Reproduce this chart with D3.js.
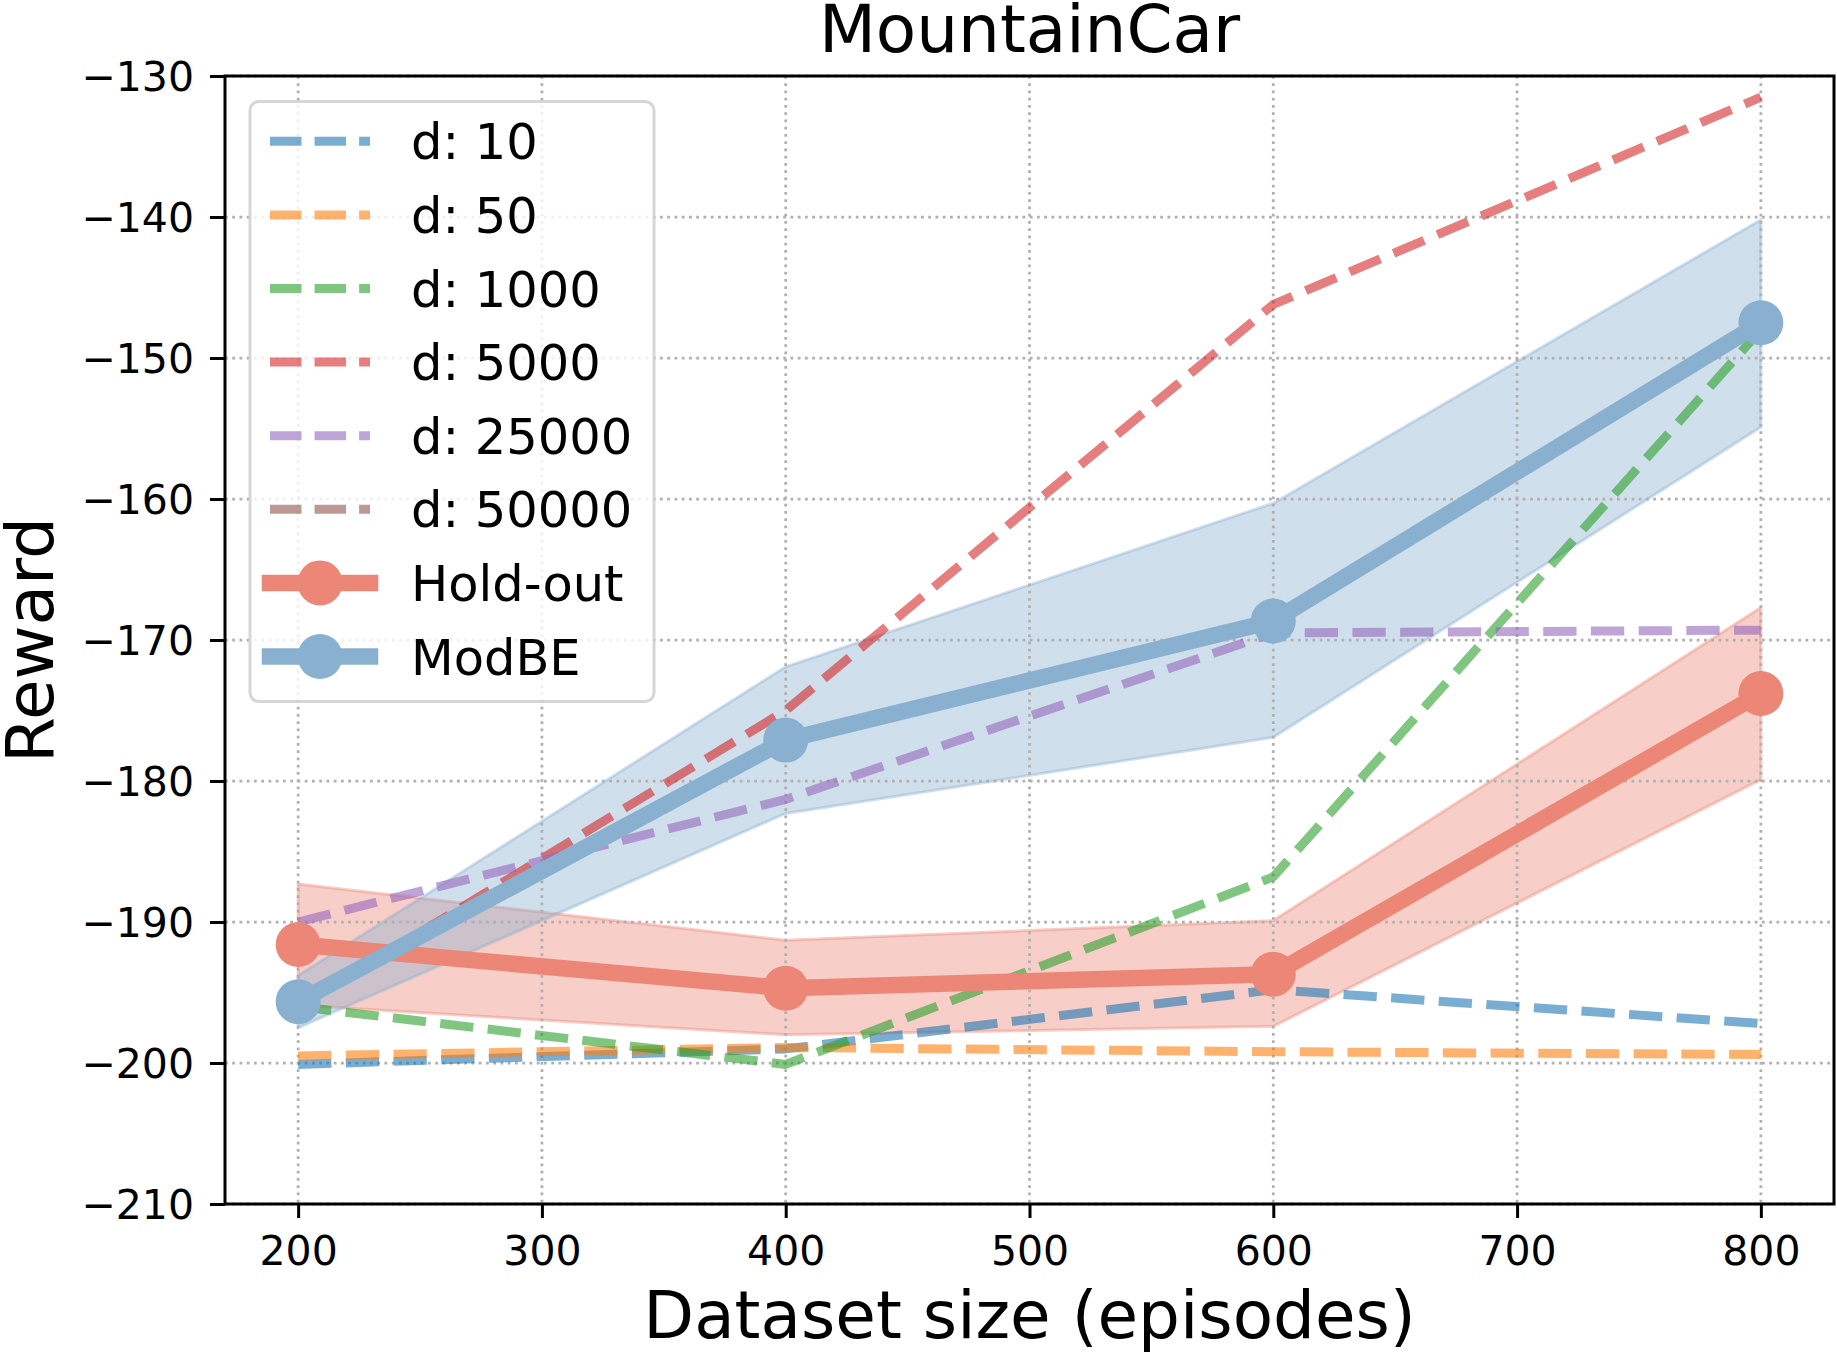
<!DOCTYPE html>
<html>
<head>
<meta charset="utf-8">
<script src="https://cdn.jsdelivr.net/npm/d3@7"></script>
<style>
  body { margin: 0; background: #fff; }
  svg text { font-family: "DejaVu Sans", sans-serif; fill: #000; }
</style>
</head>
<body>
<div id="chart"></div>
<script>
// dataset sizes (episodes)
const sizes = [200, 400, 600, 800];

// dashed series, one per d value
const d10 = [-200.1, -199.0, -194.8, -197.2];
const d50 = [-199.5, -198.9, -199.2, -199.4];
const d1000 = [-196.0, -200.1, -186.8, -148.0];
const d5000 = [-196.0, -175.0, -146.2, -131.5];
const d25000 = [-190.0, -181.3, -169.5, -169.3];
const d50000 = [null, null, null, null]; // not visible in the plot

// Hold-out: mean and band
const holdMean = [-191.6, -194.7, -193.7, -173.8];
const holdLo = [-195.9, -198.0, -197.4, -179.9];
const holdHi = [-187.3, -191.3, -189.9, -167.7];

// ModBE: mean and band
const modMean = [-195.65, -177.1, -168.65, -147.5];
const modLo = [-197.5, -182.3, -176.9, -154.9];
const modHi = [-193.8, -171.9, -160.3, -140.2];

const xTicks = [200, 300, 400, 500, 600, 700, 800];
const yTicks = [-210, -200, -190, -180, -170, -160, -150, -140, -130];

const dashed = [
    { name: "d: 10", values: d10, color: "#1f77b4" },
    { name: "d: 50", values: d50, color: "#ff7f0e" },
    { name: "d: 1000", values: d1000, color: "#2ca02c" },
    { name: "d: 5000", values: d5000, color: "#d62728" },
    { name: "d: 25000", values: d25000, color: "#9467bd" },
    { name: "d: 50000", values: d50000, color: "#8c564b" }
];
const solid = [
    { name: "Hold-out", mean: holdMean, lo: holdLo, hi: holdHi, color: "#ec8676" },
    { name: "ModBE", mean: modMean, lo: modLo, hi: modHi, color: "#8ab0d0" }
];

const width = 1837, height = 1356;
const margin = { top: 76, right: 3, bottom: 152, left: 225 };
const plotW = width - margin.left - margin.right;
const plotH = height - margin.top - margin.bottom;

const svg = d3.select("#chart").append("svg")
    .attr("width", width)
    .attr("height", height);

const x = d3.scaleLinear().domain([170, 830]).range([margin.left, margin.left + plotW]);
const y = d3.scaleLinear().domain([-210, -130]).range([margin.top + plotH, margin.top]);

const dashLw = 9;
const solidLw = 16.5;
const markerR = 22.5;

// bands first
const area = d3.area()
    .x((d, i) => x(sizes[i]))
    .y0(d => y(d.lo))
    .y1(d => y(d.hi));

solid.forEach(s => {
    const pts = s.mean.map((m, i) => ({ lo: s.lo[i], hi: s.hi[i] }));
    svg.append("path")
        .attr("d", area(pts))
        .attr("fill", s.color)
        .attr("fill-opacity", 0.4)
        .attr("stroke", s.color)
        .attr("stroke-opacity", 0.4)
        .attr("stroke-width", 3);
});

// grid
const grid = svg.append("g");
grid.selectAll(".gx").data(xTicks).enter().append("line")
    .attr("x1", d => x(d)).attr("x2", d => x(d))
    .attr("y1", margin.top).attr("y2", margin.top + plotH);
grid.selectAll(".gy").data(yTicks).enter().append("line")
    .attr("x1", margin.left).attr("x2", margin.left + plotW)
    .attr("y1", d => y(d)).attr("y2", d => y(d));
grid.selectAll("line")
    .attr("stroke", "#b0b0b0")
    .attr("stroke-width", 2.75)
    .attr("stroke-dasharray", "2.75,4.5");

const line = d3.line()
    .defined(d => d != null)
    .x((d, i) => x(sizes[i]))
    .y(d => y(d));

// dashed lines
dashed.forEach(s => {
    svg.append("path")
        .attr("d", line(s.values))
        .attr("fill", "none")
        .attr("stroke", s.color)
        .attr("stroke-opacity", 0.6)
        .attr("stroke-width", dashLw)
        .attr("stroke-dasharray", `${3.7 * dashLw},${1.6 * dashLw}`)
        .attr("stroke-linejoin", "round");
});

// solid lines with markers
solid.forEach(s => {
    svg.append("path")
        .attr("d", line(s.mean))
        .attr("fill", "none")
        .attr("stroke", s.color)
        .attr("stroke-width", solidLw)
        .attr("stroke-linejoin", "round")
        .attr("stroke-linecap", "square");
    svg.append("g").selectAll("circle")
        .data(s.mean)
        .enter().append("circle")
        .attr("cx", (d, i) => x(sizes[i]))
        .attr("cy", d => y(d))
        .attr("r", markerR)
        .attr("fill", s.color);
});

// axes
const xAxis = svg.append("g")
    .attr("transform", `translate(0,${margin.top + plotH})`)
    .call(d3.axisBottom(x).tickValues(xTicks).tickSize(14).tickPadding(18));
const yAxis = svg.append("g")
    .attr("transform", `translate(${margin.left},0)`)
    .call(d3.axisLeft(y).tickValues(yTicks).tickSize(15).tickPadding(16)
        .tickFormat(d => String(d).replace("-", "\u2212")));

[xAxis, yAxis].forEach(g => {
    g.select(".domain").remove();
    g.selectAll(".tick line").attr("stroke", "#000").attr("stroke-width", 3);
    g.selectAll(".tick text").style("font-size", "41px").attr("fill", "#000");
});
yAxis.selectAll(".tick text").attr("dy", "0.36em");

// frame
svg.append("rect")
    .attr("x", margin.left).attr("y", margin.top)
    .attr("width", plotW).attr("height", plotH)
    .attr("fill", "none")
    .attr("stroke", "#000")
    .attr("stroke-width", 3);

// title and axis labels
svg.append("text")
    .attr("x", margin.left + plotW / 2).attr("y", 52)
    .attr("text-anchor", "middle")
    .style("font-size", "66px")
    .text("MountainCar");

svg.append("text")
    .attr("x", margin.left + plotW / 2).attr("y", 1338)
    .attr("text-anchor", "middle")
    .style("font-size", "66px")
    .text("Dataset size (episodes)");

svg.append("text")
    .attr("transform", `translate(53,${margin.top + plotH / 2}) rotate(-90)`)
    .attr("text-anchor", "middle")
    .style("font-size", "66px")
    .text("Reward");

// legend
const legend = svg.append("g");
legend.append("rect")
    .attr("x", 250).attr("y", 101.5)
    .attr("width", 404).attr("height", 600)
    .attr("rx", 9)
    .attr("fill", "#fff").attr("fill-opacity", 0.8)
    .attr("stroke", "#cccccc").attr("stroke-opacity", 0.8)
    .attr("stroke-width", 3);

const rowY = i => 141.3 + i * 73.6;
dashed.forEach((s, i) => {
    legend.append("line")
        .attr("x1", 270).attr("x2", 370)
        .attr("y1", rowY(i)).attr("y2", rowY(i))
        .attr("stroke", s.color)
        .attr("stroke-opacity", 0.6)
        .attr("stroke-width", dashLw)
        .attr("stroke-dasharray", `${3.5 * dashLw},${1.45 * dashLw}`);
    legend.append("text")
        .attr("x", 411).attr("y", rowY(i) + 18)
        .style("font-size", "49.5px")
        .text(s.name);
});
solid.forEach((s, j) => {
    const i = dashed.length + j;
    legend.append("line")
        .attr("x1", 270).attr("x2", 370)
        .attr("y1", rowY(i)).attr("y2", rowY(i))
        .attr("stroke", s.color)
        .attr("stroke-width", solidLw)
        .attr("stroke-linecap", "square");
    legend.append("circle")
        .attr("cx", 320).attr("cy", rowY(i))
        .attr("r", markerR)
        .attr("fill", s.color);
    legend.append("text")
        .attr("x", 411).attr("y", rowY(i) + 18)
        .style("font-size", "49.5px")
        .text(s.name);
});
</script>
</body>
</html>
